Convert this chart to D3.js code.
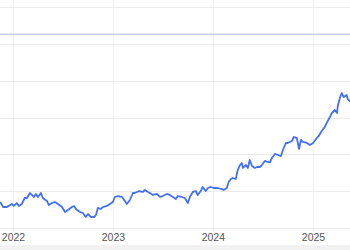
<!DOCTYPE html>
<html><head><meta charset="utf-8">
<script src="https://cdn.jsdelivr.net/npm/d3@7"></script>
<style>html,body{margin:0;padding:0;background:#fff;overflow:hidden}svg{display:block}</style>
</head><body><svg id="c" width="350" height="250"></svg>
<script>
const dates = ["2021-11-15","2021-11-26","2021-12-10","2021-12-28","2022-01-04","2022-01-15","2022-01-22","2022-02-02","2022-02-13","2022-02-21","2022-03-04","2022-03-11","2022-03-18","2022-03-26","2022-04-02","2022-04-13","2022-04-20","2022-05-05","2022-05-12","2022-05-23","2022-06-03","2022-06-14","2022-06-29","2022-07-10","2022-07-21","2022-08-04","2022-08-12","2022-08-19","2022-09-03","2022-09-13","2022-09-24","2022-10-02","2022-10-13","2022-10-24","2022-10-31","2022-11-07","2022-11-18","2022-11-25","2022-12-10","2022-12-21","2023-01-01","2023-01-08","2023-01-19","2023-02-03","2023-02-14","2023-02-21","2023-03-04","2023-03-15","2023-03-22","2023-03-30","2023-04-06","2023-04-20","2023-04-28","2023-05-09","2023-05-16","2023-05-27","2023-06-11","2023-06-22","2023-07-02","2023-07-17","2023-07-28","2023-08-08","2023-08-19","2023-08-26","2023-09-10","2023-09-21","2023-10-02","2023-10-09","2023-10-20","2023-10-31","2023-11-07","2023-11-18","2023-11-25","2023-12-06","2023-12-14","2023-12-25","2024-01-04","2024-01-19","2024-02-03","2024-02-10","2024-02-21","2024-02-28","2024-03-07","2024-03-14","2024-03-25","2024-04-01","2024-04-09","2024-04-16","2024-04-20","2024-05-01","2024-05-08","2024-05-15","2024-05-23","2024-06-03","2024-06-10","2024-06-21","2024-06-28","2024-07-09","2024-07-20","2024-07-28","2024-08-04","2024-08-15","2024-08-26","2024-09-06","2024-09-13","2024-09-24","2024-10-01","2024-10-16","2024-10-23","2024-11-03","2024-11-11","2024-11-18","2024-11-25","2024-12-10","2024-12-21","2025-01-01","2025-01-15","2025-01-22","2025-02-02","2025-02-13","2025-02-24","2025-03-04","2025-03-11","2025-03-22","2025-03-30","2025-04-01","2025-04-09","2025-04-16","2025-04-23","2025-05-04","2025-05-08","2025-05-15","2025-05-26"];
const values = [135.3,128.5,128.5,132.6,129.9,133.9,129.9,132.6,140.7,140.7,147.5,144.8,142.1,146.2,142.1,147.5,140.7,136.7,131.2,133.9,135.3,132.6,128.5,121.7,124.4,128.5,129.9,125.8,121.7,120.4,114.9,119.0,114.9,114.9,117.6,127.2,125.8,128.5,129.9,132.6,135.3,142.1,143.4,142.1,136.7,132.6,138.0,147.5,147.5,148.9,150.2,148.9,151.6,148.9,147.5,144.8,146.2,142.1,143.4,146.2,144.8,142.1,139.4,143.4,142.1,140.7,133.9,142.1,148.9,150.2,144.8,150.2,155.7,150.2,154.3,155.7,154.3,154.3,152.9,151.6,154.3,162.4,166.5,167.9,166.5,178.7,185.5,188.2,181.5,185.5,181.5,192.3,184.2,181.5,182.8,182.8,185.5,191.0,189.6,189.6,195.0,200.5,199.1,197.7,205.9,215.4,215.4,218.1,223.5,222.2,207.3,219.5,216.8,215.4,212.7,215.4,222.2,224.9,231.7,237.1,245.3,250.7,256.1,260.2,256.1,264.3,276.5,283.3,277.8,280.6,275.1,272.4,268.3];
const yTicks = [100,150,200,250,300,350,400];
const xTickLabels = ["2022","2023","2024","2025"];
const refValue = 363;

const parse = d3.timeParse("%Y-%m-%d");
const data = dates.map((d,i)=>({date:parse(d), v:values[i]}));
const W = 350, H = 250;
const svg = d3.select("#c");
const x = d3.scaleTime().domain([new Date(2022,0,1), new Date(2025,0,1)]).range([13,313]);
const y = d3.scaleLinear().domain([100,400]).range([228,7]);

svg.append("rect").attr("x",0).attr("y",245).attr("width",W).attr("height",5).attr("fill","#f2f2f2");

const xTicks = xTickLabels.map(t=>new Date(+t,0,1));
svg.append("g").selectAll("line").data(xTicks).join("line")
  .attr("x1",d=>Math.round(x(d))+0.5).attr("x2",d=>Math.round(x(d))+0.5)
  .attr("y1",0).attr("y2",232).attr("stroke","#f1f2f3").attr("stroke-width",1.2);
svg.append("g").selectAll("line").data(yTicks).join("line")
  .attr("x1",0).attr("x2",W)
  .attr("y1",d=>Math.round(y(d))+0.5).attr("y2",d=>Math.round(y(d))+0.5)
  .attr("stroke","#ebebeb").attr("stroke-width",1.2);

svg.append("line").attr("x1",0).attr("x2",W).attr("y1",y(refValue)).attr("y2",y(refValue))
  .attr("stroke","#c9d2fc").attr("stroke-width",1.5);

const xAxis = d3.axisBottom(x).tickValues(xTicks).tickFormat(d3.timeFormat("%Y")).tickSize(0).tickPadding(0);
const gx = svg.append("g").attr("transform","translate(0,234)").call(xAxis);
gx.select(".domain").remove();
gx.selectAll("text").attr("fill","#555").attr("font-family","Liberation Sans, Arial, sans-serif").attr("font-size","10.5px").attr("dy","0.71em");

svg.append("defs").append("clipPath").attr("id","clip").append("rect").attr("x",0).attr("y",0).attr("width",W).attr("height",245);
svg.append("path").datum(data).attr("clip-path","url(#clip)")
  .attr("d", d3.line().x(d=>x(d.date)).y(d=>y(d.v)))
  .attr("fill","none").attr("stroke","#4470f4").attr("stroke-width",1.8).attr("stroke-linejoin","round");
</script></body></html>
